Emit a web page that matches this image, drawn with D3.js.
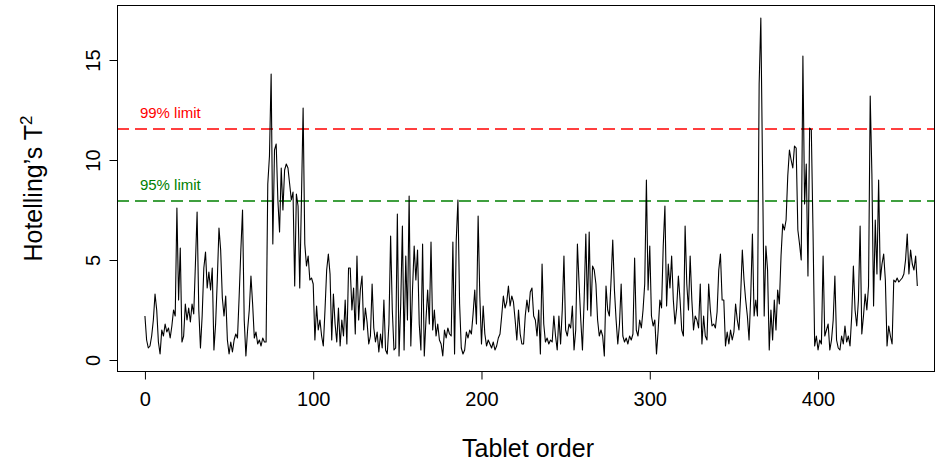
<!DOCTYPE html>
<html><head><meta charset="utf-8">
<script src="https://cdn.jsdelivr.net/npm/d3@7"></script>
<style>
body{margin:0;background:#fff}
svg{display:block}
text{font-family:"Liberation Sans",Arial,Helvetica,sans-serif}
</style>
</head><body>
<svg id="chart" width="938" height="463"></svg>
<script>
// Hotelling's T2 per tablet (index 0..459)
const t2Values = [
  2.2, 1.0, 0.6, 0.7, 1.2, 2.0, 3.3, 2.5, 0.9, 0.3,
  1.5, 1.2, 1.8, 1.4, 1.6, 1.1, 1.7, 2.5, 2.2, 7.6,
  3.0, 5.6, 0.9, 1.2, 2.8, 2.0, 2.6, 1.9, 2.8, 2.3,
  4.8, 7.4, 2.5, 0.6, 2.2, 4.6, 5.4, 3.6, 4.4, 3.5,
  4.6, 0.5, 1.8, 4.0, 6.6, 5.5, 3.1, 2.2, 3.2, 1.0,
  0.3, 0.9, 0.4, 1.0, 1.3, 1.1, 3.2, 5.5, 7.5, 2.0,
  0.2, 1.5, 2.5, 4.2, 2.8, 1.1, 1.4, 0.8, 1.0, 0.7,
  1.1, 0.9, 0.9, 8.8, 10.2, 14.3, 5.8, 10.5, 10.8, 8.0,
  6.4, 9.6, 7.5, 9.5, 9.8, 9.6, 8.8, 8.0, 8.4, 3.7,
  8.3, 7.7, 3.6, 8.0, 12.6, 5.8, 4.7, 5.2, 4.0, 4.1,
  3.8, 1.0, 2.7, 1.5, 2.0, 1.2, 0.7, 2.5, 4.5, 5.3,
  4.3, 1.0, 3.3, 1.8, 0.9, 2.6, 0.7, 2.0, 1.2, 3.0,
  0.8, 4.6, 4.6, 2.5, 3.6, 1.3, 5.2, 2.0, 3.5, 4.2,
  1.5, 2.6, 1.9, 0.8, 1.2, 3.8, 1.6, 0.9, 1.4, 0.4,
  1.3, 0.6, 3.0, 0.5, 0.3, 1.8, 6.2, 2.5, 0.5, 0.6,
  7.3, 0.2, 2.8, 6.7, 0.5, 5.2, 2.0, 8.2, 0.7, 3.5,
  5.7, 4.0, 5.5, 1.8, 0.5, 5.8, 0.2, 2.0, 3.5, 1.8,
  5.9, 1.5, 2.5, 1.2, 1.8, 1.0, 0.8, 0.2, 1.5, 1.1,
  1.6, 1.3, 1.2, 5.9, 0.3, 6.0, 8.0, 2.8, 0.6, 0.3,
  0.5, 1.4, 1.1, 1.5, 1.3, 2.3, 3.5, 1.8, 7.2, 3.2,
  0.8, 2.7, 1.3, 0.7, 1.0, 0.8, 0.6, 0.9, 0.5, 0.7,
  1.1, 1.3, 2.2, 3.2, 2.6, 2.9, 3.7, 2.7, 3.2, 2.9,
  2.0, 1.0, 2.5, 1.3, 0.8, 0.8, 2.2, 3.0, 2.4, 3.4,
  3.6, 2.2, 2.0, 1.2, 2.5, 0.3, 4.8, 1.8, 0.9, 1.1,
  0.8, 1.0, 0.9, 2.2, 1.2, 0.5, 2.2, 0.8, 2.5, 5.2,
  1.5, 1.2, 1.8, 1.6, 2.7, 0.5, 1.5, 5.8, 3.8, 2.0,
  0.5, 3.0, 6.3, 2.5, 6.4, 2.2, 4.7, 4.5, 3.8, 2.0,
  1.2, 1.5, 1.2, 0.2, 3.7, 2.5, 2.2, 4.0, 6.0, 3.5,
  2.0, 0.8, 1.8, 3.8, 1.2, 0.9, 1.1, 0.8, 1.2, 1.0,
  1.3, 5.1, 1.5, 1.2, 2.0, 1.6, 2.5, 3.8, 9.0, 3.5,
  5.7, 2.2, 1.7, 2.0, 0.3, 1.5, 3.0, 2.6, 5.7, 7.7,
  2.7, 4.8, 3.6, 5.2, 3.0, 1.8, 2.6, 4.2, 3.0, 1.5,
  1.2, 6.7, 3.8, 2.5, 5.2, 3.0, 1.5, 2.2, 2.0, 1.6,
  3.8, 0.8, 2.2, 1.2, 1.0, 3.8, 2.5, 1.7, 1.8, 1.6,
  2.4, 4.5, 5.3, 3.0, 3.0, 0.7, 1.4, 0.8, 1.5, 1.0,
  1.4, 2.8, 2.0, 1.5, 3.2, 5.5, 4.0, 3.0, 2.2, 1.0,
  3.2, 6.3, 2.2, 3.0, 2.2, 13.8, 17.1, 9.7, 2.2, 5.7,
  4.5, 0.5, 2.5, 1.0, 3.0, 1.5, 3.5, 2.8, 5.2, 6.8,
  6.5, 7.0, 9.2, 10.5, 10.0, 9.6, 10.7, 10.6, 6.5, 5.8,
  5.0, 15.2, 7.8, 9.8, 4.2, 11.6, 11.5, 6.5, 0.7, 1.2,
  0.5, 1.0, 0.8, 5.2, 1.2, 1.5, 1.8, 0.5, 1.0, 2.0,
  4.2, 1.0, 0.6, 0.5, 1.2, 0.8, 1.7, 0.9, 1.2, 0.7,
  2.2, 4.7, 2.5, 1.7, 3.0, 6.7, 1.3, 2.2, 3.3, 2.5,
  3.7, 13.2, 9.3, 2.7, 7.0, 4.3, 9.0, 4.0, 4.8, 5.3,
  4.0, 0.7, 1.7, 1.2, 0.8, 4.0, 3.9, 4.1, 3.9, 4.0,
  4.1, 4.3, 5.0, 6.3, 4.3, 5.5, 4.8, 4.5, 5.2, 3.7
];
const xTickValues = [0, 100, 200, 300, 400];
const yTickValues = [0, 5, 10, 15];
const limitValues = [11.55, 7.95];
const limitLabels = ["99% limit", "95% limit"];
const limitColors = ["#ff0000", "#008000"];
const xTitle = "Tablet order";

const svg = d3.select("#chart");
const plot = {left: 117, right: 935, top: 5, bottom: 372};

const x = d3.scaleLinear().domain([-16.6, 469.5]).range([plot.left, plot.right]);
const y = d3.scaleLinear().domain([-0.6, 17.75]).range([plot.bottom, plot.top]);

// limit lines
limitValues.forEach((v, i) => {
  svg.append("line")
    .attr("x1", plot.left).attr("x2", plot.right)
    .attr("y1", y(v)).attr("y2", y(v))
    .attr("stroke", limitColors[i]).attr("stroke-width", 1.6)
    .attr("stroke-dasharray", "12,6");
  svg.append("text")
    .attr("x", x(-3)).attr("y", y(v) - 11)
    .attr("fill", limitColors[i]).attr("font-size", 15)
    .text(limitLabels[i]);
});

// data line
const line = d3.line().x((d, i) => x(i)).y(d => y(d));
svg.append("path").datum(t2Values)
  .attr("d", line).attr("fill", "none")
  .attr("stroke", "#000").attr("stroke-width", 1.1)
  .attr("stroke-linejoin", "round");

// box
svg.append("rect")
  .attr("x", plot.left + 0.5).attr("y", plot.top + 0.5)
  .attr("width", plot.right - plot.left - 1).attr("height", plot.bottom - plot.top - 1)
  .attr("fill", "none").attr("stroke", "#000").attr("stroke-width", 1);

// x axis
const xAxis = svg.append("g").attr("transform", `translate(0,${plot.bottom - 0.5})`)
  .call(d3.axisBottom(x).tickValues(xTickValues).tickSize(8).tickPadding(12).tickFormat(d3.format("d")));
xAxis.select(".domain").remove();
xAxis.selectAll("text").attr("font-size", 20).attr("fill", "#000").style("font-family", "'Liberation Sans',Arial,sans-serif");
xAxis.selectAll("line").attr("stroke", "#000");

// y axis
const yAxis = svg.append("g").attr("transform", `translate(${plot.left + 0.5},0)`)
  .call(d3.axisLeft(y).tickValues(yTickValues).tickSize(8).tickPadding(8).tickFormat(d3.format("d")));
yAxis.select(".domain").remove();
yAxis.selectAll("line").attr("stroke", "#000");
yAxis.selectAll("text")
  .attr("font-size", 20).attr("fill", "#000").style("font-family", "'Liberation Sans',Arial,sans-serif")
  .attr("text-anchor", "middle").attr("dy", null).attr("x", null)
  .attr("transform", "translate(-23,0) rotate(-90)")
  .attr("y", 0).attr("dominant-baseline", "middle");

// titles
svg.append("text")
  .attr("x", (plot.left + plot.right) / 2 + 2).attr("y", 457)
  .attr("text-anchor", "middle").attr("font-size", 25).attr("fill", "#000")
  .text(xTitle);

const yt = svg.append("text")
  .attr("transform", `translate(42,${(plot.top + plot.bottom) / 2}) rotate(-90)`)
  .attr("text-anchor", "middle").attr("font-size", 25).attr("fill", "#000");
yt.append("tspan").text("Hotelling’s T");
yt.append("tspan").attr("dy", -10).attr("font-size", 17).text("2");
</script>
</body></html>
